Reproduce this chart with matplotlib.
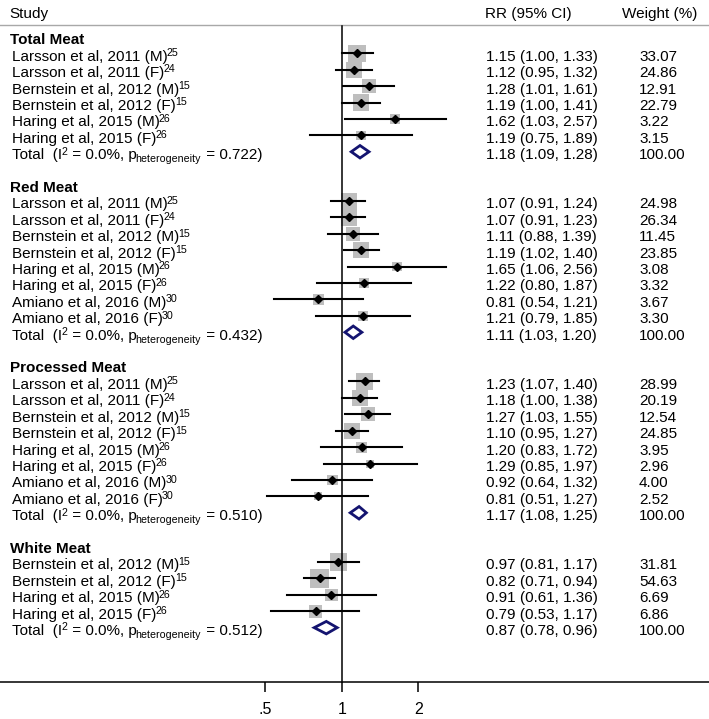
import numpy as np
import matplotlib
matplotlib.use("Agg")
import matplotlib.pyplot as plt
from matplotlib.transforms import blended_transform_factory
from matplotlib.patches import Polygon

plt.rcParams['font.family'] = ['Liberation Sans', 'DejaVu Sans']

# ---- data ----
sections = ["Total Meat", "Red Meat", "Processed Meat", "White Meat"]

total_studies = ["Larsson et al, 2011 (M)", "Larsson et al, 2011 (F)",
                 "Bernstein et al, 2012 (M)", "Bernstein et al, 2012 (F)",
                 "Haring et al, 2015 (M)", "Haring et al, 2015 (F)"]
total_refs = ["25", "24", "15", "15", "26", "26"]
total_rr = [1.15, 1.12, 1.28, 1.19, 1.62, 1.19]
total_lo = [1.00, 0.95, 1.01, 1.00, 1.03, 0.75]
total_hi = [1.33, 1.32, 1.61, 1.41, 2.57, 1.89]
total_w = [33.07, 24.86, 12.91, 22.79, 3.22, 3.15]

red_studies = ["Larsson et al, 2011 (M)", "Larsson et al, 2011 (F)",
               "Bernstein et al, 2012 (M)", "Bernstein et al, 2012 (F)",
               "Haring et al, 2015 (M)", "Haring et al, 2015 (F)",
               "Amiano et al, 2016 (M)", "Amiano et al, 2016 (F)"]
red_refs = ["25", "24", "15", "15", "26", "26", "30", "30"]
red_rr = [1.07, 1.07, 1.11, 1.19, 1.65, 1.22, 0.81, 1.21]
red_lo = [0.91, 0.91, 0.88, 1.02, 1.06, 0.80, 0.54, 0.79]
red_hi = [1.24, 1.23, 1.39, 1.40, 2.56, 1.87, 1.21, 1.85]
red_w = [24.98, 26.34, 11.45, 23.85, 3.08, 3.32, 3.67, 3.30]

proc_studies = red_studies
proc_refs = red_refs
proc_rr = [1.23, 1.18, 1.27, 1.10, 1.20, 1.29, 0.92, 0.81]
proc_lo = [1.07, 1.00, 1.03, 0.95, 0.83, 0.85, 0.64, 0.51]
proc_hi = [1.40, 1.38, 1.55, 1.27, 1.72, 1.97, 1.32, 1.27]
proc_w = [28.99, 20.19, 12.54, 24.85, 3.95, 2.96, 4.00, 2.52]

white_studies = ["Bernstein et al, 2012 (M)", "Bernstein et al, 2012 (F)",
                 "Haring et al, 2015 (M)", "Haring et al, 2015 (F)"]
white_refs = ["15", "15", "26", "26"]
white_rr = [0.97, 0.82, 0.91, 0.79]
white_lo = [0.81, 0.71, 0.61, 0.53]
white_hi = [1.17, 0.94, 1.36, 1.17]
white_w = [31.81, 54.63, 6.69, 6.86]

pooled_rr = [1.18, 1.11, 1.17, 0.87]
pooled_lo = [1.09, 1.03, 1.08, 0.78]
pooled_hi = [1.28, 1.20, 1.25, 0.96]
p_het = ["0.722", "0.432", "0.510", "0.512"]
i2 = ["0.0", "0.0", "0.0", "0.0"]

xticks = [0.5, 1, 2]
xticklabels = [".5", "1", "2"]

groups = [
    (total_studies, total_refs, total_rr, total_lo, total_hi, total_w),
    (red_studies, red_refs, red_rr, red_lo, red_hi, red_w),
    (proc_studies, proc_refs, proc_rr, proc_lo, proc_hi, proc_w),
    (white_studies, white_refs, white_rr, white_lo, white_hi, white_w),
]

# ---- layout ----
W, H = 709, 719
row_px = 16.41       # pixel height of one row
row1_px = 53.3       # pixel y of first study row
x1_px = 341.7        # pixel x of RR = 1
px_per_ln = 110.6    # pixels per natural log unit


def px_to_row(py):
    return 1 + (py - row1_px) / row_px


fig = plt.figure(figsize=(W / 100, H / 100), dpi=100)
ax = fig.add_axes([0, 0, 1, 1])
ax.set_xscale('log')
ax.set_xlim(np.exp(-x1_px / px_per_ln), np.exp((W - x1_px) / px_per_ln))
ax.set_ylim(px_to_row(H), px_to_row(0))
ax.patch.set_alpha(0)
for s in ['top', 'left', 'right']:
    ax.spines[s].set_visible(False)
axis_row = px_to_row(682)
ax.spines['bottom'].set_position(('data', axis_row))
ax.spines['bottom'].set_linewidth(1.1)
ax.set_yticks([])
ax.set_xticks(xticks)
ax.set_xticklabels(xticklabels, fontsize=11.5)
ax.minorticks_off()
ax.tick_params(axis='x', direction='out', length=7.5, width=1.1, pad=7)

tr = blended_transform_factory(ax.transAxes, ax.transData)
renderer = fig.canvas.get_renderer()
fs = 11
fs_small = 7.7
base = 0.45   # baseline offset below row center (rows)


def pieces(x_px, y, parts):
    # parts: list of (string, kind) with kind in 'n', 'sup', 'sub'
    for txt, kind in parts:
        if kind == 'sup':
            t = ax.text(x_px / W, y - 0.28, txt, transform=tr, fontsize=fs_small, va='baseline')
        elif kind == 'sub':
            t = ax.text(x_px / W, y + 0.2, txt, transform=tr, fontsize=fs_small, va='baseline')
        else:
            t = ax.text(x_px / W, y, txt, transform=tr, fontsize=fs, va='baseline')
        x_px = t.get_window_extent(renderer).x1 + (-1.0 if kind == 'n' else 1.0)


# header
ax.text(9 / W, px_to_row(18), "Study", transform=tr, fontsize=fs, va='baseline')
ax.text(485 / W, px_to_row(18), "RR (95% CI)", transform=tr, fontsize=fs, va='baseline')
ax.text(622 / W, px_to_row(18), "Weight (%)", transform=tr, fontsize=fs, va='baseline')
ax.axhline(px_to_row(25), color='#a8a8a8', lw=1.0)

# reference line at RR = 1
ax.plot([1, 1], [px_to_row(26), axis_row], color='black', lw=1.1, zorder=3)


def box_side(w):
    # box side in points
    px = 8 + 11.3 * (max(w - 3, 0) / 51.6) ** 0.35
    return px * 0.72


row = 0
for k, (names, refs, rr, lo, hi, w) in enumerate(groups):
    ax.text(10 / W, row + base, sections[k], transform=tr, fontsize=fs,
            fontweight='bold', va='baseline')
    row += 1
    for name, ref, r, l, h, wt in zip(names, refs, rr, lo, hi, w):
        ax.scatter([r], [row], marker='s', s=box_side(wt) ** 2, color='#bebebe',
                   edgecolors='none', zorder=2)
        ax.plot([l, h], [row, row], color='black', lw=1.5, zorder=4)
        ax.plot([r], [row], marker='D', ms=3.6, color='black', zorder=5)
        pieces(12, row + base, [(name, 'n'), (ref, 'sup')])
        ax.text(486 / W, row + base, f"{r:.2f} ({l:.2f}, {h:.2f})", transform=tr,
                fontsize=fs, va='baseline')
        ax.text(639 / W, row + base, f"{wt:.2f}", transform=tr, fontsize=fs, va='baseline')
        row += 1
    # pooled estimate
    pr, pl, ph = pooled_rr[k], pooled_lo[k], pooled_hi[k]
    hh = 0.38
    dia = Polygon([(pl, row), (pr, row - hh), (ph, row), (pr, row + hh)], closed=True,
                  facecolor='none', edgecolor='#141470', lw=2.0, zorder=4)
    ax.add_patch(dia)
    pieces(12, row + base, [("Total  (I", 'n'), ("2", 'sup'),
                            (" = " + i2[k] + "%, p", 'n'), ("heterogeneity", 'sub'),
                            (" = " + p_het[k] + ")", 'n')])
    ax.text(486 / W, row + base, f"{pr:.2f} ({pl:.2f}, {ph:.2f})", transform=tr,
            fontsize=fs, va='baseline')
    ax.text(639 / W, row + base, "100.00", transform=tr, fontsize=fs, va='baseline')
    row += 2

fig.savefig("out.png", dpi=100)
